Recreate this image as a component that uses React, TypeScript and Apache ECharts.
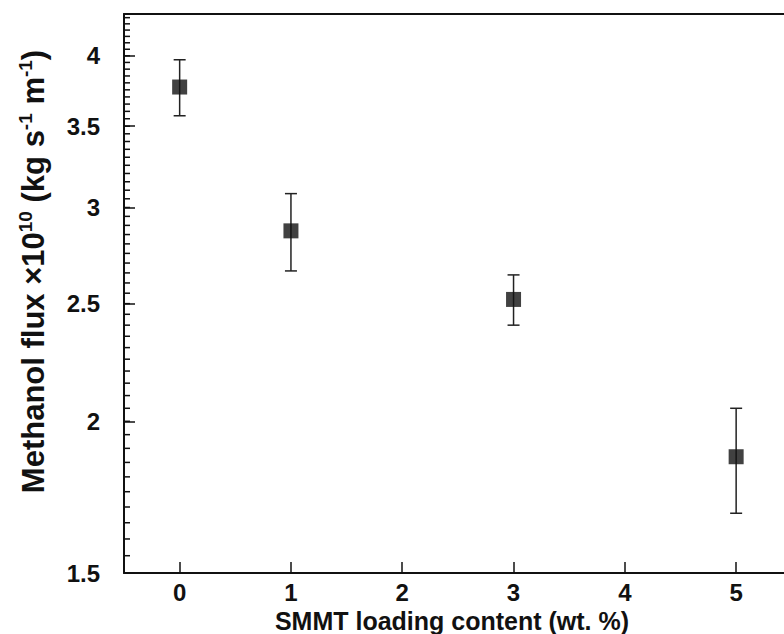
import React, { useEffect, useRef } from "react";
import * as echarts from "echarts";

const xValues = [0, 1, 3, 5];
const fluxValues = [3.77, 2.87, 2.52, 1.87];
const fluxUpper = [3.97, 3.08, 2.64, 2.05];
const fluxLower = [3.57, 2.66, 2.4, 1.68];
const xTickValues = [0, 1, 2, 3, 4, 5];
const yTickLabels = ["1.5", "2", "2.5", "3", "3.5", "4"];
const yMin = 1.5;
const yMax = 4.33;
const yMinorStep = 0.05;
const xMin = -0.5;
const xMax = 5.43;

const FONT = "'Liberation Sans', Arial, Helvetica, sans-serif";
const lg = (v: number) => Math.log10(v);

export default function App() {
  const ref = useRef<HTMLDivElement>(null);
  useEffect(() => {
    document.body.style.margin = "0";
    document.documentElement.style.overflow = "hidden";
    const chart = echarts.init(ref.current!, null, { renderer: "svg" });
    const majorVals = yTickLabels.map((s) => lg(parseFloat(s)));
    const minorVals: number[] = [];
    for (let k = 0; yMin + k * yMinorStep <= yMax + 1e-9; k++) {
      minorVals.push(lg(yMin + k * yMinorStep));
    }
    const labelFor = (v: number) => {
      let best = yTickLabels[0];
      let d = Infinity;
      yTickLabels.forEach((s) => {
        const dd = Math.abs(lg(parseFloat(s)) - v);
        if (dd < d) {
          d = dd;
          best = s;
        }
      });
      return best;
    };
    chart.setOption({
      animation: false,
      backgroundColor: "#fff",
      grid: {
        left: 124,
        right: 0,
        top: 14,
        bottom: 61,
        show: false,
        outerBoundsMode: "none",
        containLabel: false,
      },
      graphic: [
        {
          type: "rect",
          right: 0,
          top: 17,
          shape: { width: 4, height: 552 },
          style: { fill: "#fff" },
          z: 100,
          silent: true,
        },
      ],
      xAxis: [
        {
          type: "value",
          min: xMin,
          max: xMax,
          position: "bottom",
          name: "SMMT loading content (wt. %)",
          nameLocation: "middle",
          nameGap: 28,
          nameTextStyle: { fontFamily: FONT, fontWeight: "bold", fontSize: 25, color: "#111", padding: [0, 4, 0, 0] },
          axisLine: { show: true, onZero: false, lineStyle: { color: "#111", width: 2 } },
          axisTick: { show: true, inside: true, length: 11, customValues: xTickValues, lineStyle: { color: "#111", width: 1.5 } },
          axisLabel: {
            customValues: xTickValues,
            margin: 7,
            fontFamily: FONT,
            fontWeight: "bold",
            fontSize: 24,
            color: "#111",
          },
          splitLine: { show: false },
          splitArea: { show: false },
        },
        {
          type: "value",
          min: xMin,
          max: xMax,
          position: "top",
          axisLine: { show: true, onZero: false, lineStyle: { color: "#111", width: 2 } },
          axisTick: { show: false },
          axisLabel: { show: false },
          splitLine: { show: false },
          splitArea: { show: false },
        },
      ],
      yAxis: {
        type: "value",
        min: lg(yMin),
        max: lg(yMax),
        position: "left",
        name: "{a|Methanol flux ×10}{s|10}{a| (kg s}{s|-1}{a| m}{s|-1}{a|)}",
        nameLocation: "middle",
        nameRotate: 90,
        nameGap: 74,
        nameTextStyle: {
          padding: [0, 0, 0, 44],
          rich: {
            a: { fontFamily: FONT, fontWeight: "bold", fontSize: 31, color: "#111", lineHeight: 34 },
            s: { fontFamily: FONT, fontWeight: "bold", fontSize: 19, color: "#111", verticalAlign: "top", lineHeight: 34 },
          },
        },
        axisLine: { show: true, onZero: false, lineStyle: { color: "#111", width: 2 } },
        axisTick: { show: true, inside: true, length: 11, customValues: majorVals, lineStyle: { color: "#111", width: 1.5 } },
        axisLabel: {
          customValues: majorVals,
          formatter: (v: number) => labelFor(v),
          margin: 24,
          fontFamily: FONT,
          fontWeight: "bold",
          fontSize: 24,
          color: "#111",
        },
        splitLine: { show: false },
        splitArea: { show: false },
      },
      series: [
        {
          type: "custom",
          xAxisIndex: 0,
          yAxisIndex: 0,
          clip: false,
          silent: true,
          data: minorVals.map((v) => [xMin, v]),
          encode: { x: 0, y: 1 },
          renderItem: (params: any, api: any) => {
            const p = api.coord([api.value(0), api.value(1)]);
            return {
              type: "line",
              shape: { x1: p[0], y1: p[1], x2: p[0] + 6, y2: p[1] },
              style: { stroke: "#111", lineWidth: 1.5 },
            };
          },
          z: 1,
        },
        {
          type: "custom",
          xAxisIndex: 0,
          yAxisIndex: 0,
          data: xValues.map((x, i) => [x, lg(fluxLower[i]), lg(fluxUpper[i])]),
          encode: { x: 0, y: [1, 2] },
          renderItem: (params: any, api: any) => {
            const x = api.value(0);
            const p1 = api.coord([x, api.value(1)]);
            const p2 = api.coord([x, api.value(2)]);
            const w = 6;
            const st = { stroke: "#222", lineWidth: 1.5 };
            return {
              type: "group",
              children: [
                { type: "line", shape: { x1: p1[0], y1: p1[1], x2: p2[0], y2: p2[1] }, style: st },
                { type: "line", shape: { x1: p1[0] - w, y1: p1[1], x2: p1[0] + w, y2: p1[1] }, style: st },
                { type: "line", shape: { x1: p2[0] - w, y1: p2[1], x2: p2[0] + w, y2: p2[1] }, style: st },
              ],
            };
          },
          z: 2,
        },
        {
          type: "scatter",
          xAxisIndex: 0,
          yAxisIndex: 0,
          symbol: "rect",
          symbolSize: 15,
          itemStyle: { color: "#111" },
          data: xValues.map((x, i) => [x, lg(fluxValues[i])]),
          z: 3,
        },
      ],
    });
    return () => chart.dispose();
  }, []);
  return <div ref={ref} style={{ width: 784, height: 634 }} />;
}
